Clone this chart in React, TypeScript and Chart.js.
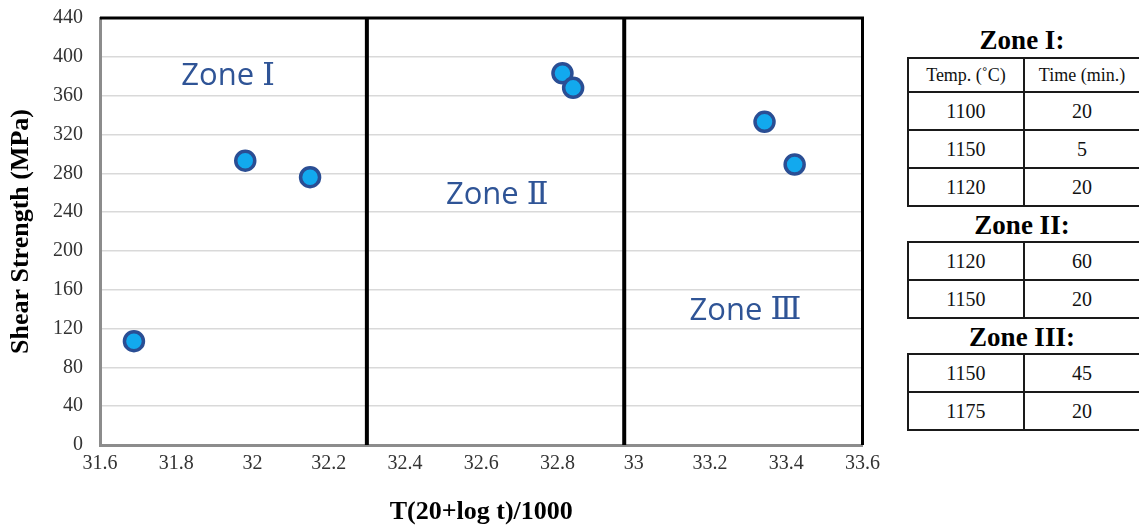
import React, { useEffect, useRef } from "react";
import { Chart, registerables } from "chart.js";

Chart.register(...registerables);

// ---- data ----
const xValues = [31.689, 31.981, 32.151, 32.813, 32.841, 33.343, 33.422];
const shearStrength = [107, 293, 276, 383, 368, 333, 289];
const zoneBoundaries = [32.3, 32.975];
const zoneWords = ["Zone", "Zone", "Zone"];
const zoneNumerals = ["Ⅰ", "Ⅱ", "Ⅲ"];
const zoneLabelX = [31.936, 32.642, 33.293];
const zoneLabelY = [380, 257, 138];
const xMin = 31.6;
const xMax = 33.6;
const xStep = 0.2;
const yMin = 0;
const yMax = 440;
const yStep = 40;
const xTitle = "T(20+log t)/1000";
const yTitle = "Shear Strength (MPa)";

const tableTitles = ["Zone I:", "Zone II:", "Zone III:"];
const tableHeader = ["Temp. (˚C)", "Time (min.)"];
const tempC = [[1100, 1150, 1120], [1120, 1150], [1150, 1175]];
const timeMin = [[20, 5, 20], [60, 20], [45, 20]];

const zonePlugin = {
  id: "zones",
  beforeDatasetsDraw(chart: any) {
    const { ctx, chartArea, scales } = chart;
    const xs = scales.x;
    const ys = scales.y;
    ctx.save();
    ctx.strokeStyle = "#000000";
    ctx.lineWidth = 4;
    zoneBoundaries.forEach((b) => {
      const px = xs.getPixelForValue(b);
      ctx.beginPath();
      ctx.moveTo(px, chartArea.top);
      ctx.lineTo(px, chartArea.bottom);
      ctx.stroke();
    });
    ctx.lineWidth = 3;
    ctx.beginPath();
    ctx.moveTo(chartArea.left, chartArea.top);
    ctx.lineTo(chartArea.right, chartArea.top);
    ctx.lineTo(chartArea.right, chartArea.bottom);
    ctx.stroke();
    // zone labels: word in sans, numeral in serif
    ctx.fillStyle = "#2F5496";
    ctx.textBaseline = "middle";
    ctx.textAlign = "left";
    const wordFont = '31px "Open Sans", "DejaVu Sans", sans-serif';
    const numFont = '32px "Liberation Serif", "DejaVu Serif", serif';
    zoneWords.forEach((w, i) => {
      ctx.font = wordFont;
      const ww = ctx.measureText(w + " ").width;
      ctx.font = numFont;
      const nw = ctx.measureText(zoneNumerals[i]).width;
      const cx = xs.getPixelForValue(zoneLabelX[i]);
      const cy = ys.getPixelForValue(zoneLabelY[i]);
      const start = cx - (ww + nw) / 2;
      ctx.font = wordFont;
      ctx.fillText(w + " ", start, cy);
      ctx.font = numFont;
      ctx.fillText(zoneNumerals[i], start + ww, cy);
    });
    ctx.restore();
  },
};

function ZoneTable({ idx }: { idx: number }) {
  const cell: React.CSSProperties = {
    border: "2px solid #1a1a1a",
    textAlign: "center",
    padding: 0,
    fontSize: 20,
    height: 36,
    width: 114,
    color: "#111",
  };
  const titleH = idx === 0 ? 33 : 31;
  return (
    <div>
      <div
        style={{
          height: titleH,
          paddingTop: 3,
          lineHeight: titleH + "px",
          textAlign: "center",
          fontWeight: "bold",
          fontSize: 27,
          width: 230,
          color: "#000",
        }}
      >
        {tableTitles[idx]}
      </div>
      <table style={{ borderCollapse: "collapse", width: 234, tableLayout: "fixed" }}>
        <tbody>
          {idx === 0 && (
            <tr>
              <td style={{ ...cell, height: 32, fontSize: 18 }}>{tableHeader[0]}</td>
              <td style={{ ...cell, height: 32, fontSize: 18 }}>{tableHeader[1]}</td>
            </tr>
          )}
          {tempC[idx].map((t, j) => (
            <tr key={j}>
              <td style={cell}>{t}</td>
              <td style={cell}>{timeMin[idx][j]}</td>
            </tr>
          ))}
        </tbody>
      </table>
    </div>
  );
}

export default function App() {
  const canvasRef = useRef<HTMLCanvasElement | null>(null);

  useEffect(() => {
    if (!canvasRef.current) return;
    const points = xValues.map((x, i) => ({ x, y: shearStrength[i] }));
    const chart = new Chart(canvasRef.current, {
      type: "scatter",
      data: {
        datasets: [
          {
            data: points,
            pointRadius: 9.5,
            pointHoverRadius: 9.5,
            pointBackgroundColor: "#12A9EE",
            pointBorderColor: "#2A4E94",
            pointBorderWidth: 3.5,
          },
        ],
      },
      options: {
        animation: false,
        responsive: true,
        maintainAspectRatio: false,
        plugins: { legend: { display: false }, tooltip: { enabled: false } },
        layout: { padding: { top: 5, right: 10, left: 0, bottom: 0 } },
        scales: {
          x: {
            type: "linear",
            min: xMin,
            max: xMax,
            afterFit: (s: any) => {
              s.height = 84;
            },
            ticks: {
              stepSize: xStep,
              padding: 7,
              color: "#333333",
              font: { family: '"Liberation Serif", serif', size: 20 },
              callback: (v: any) => String(Number(Number(v).toFixed(1))),
            },
            grid: { display: false, drawTicks: false },
            border: { display: true, color: "#8c8c8c", width: 3 },
            title: {
              display: true,
              text: xTitle,
              color: "#000",
              padding: { top: 0, bottom: 1 },
              font: { family: '"Liberation Serif", serif', size: 26, weight: "bold" },
            },
          },
          y: {
            min: yMin,
            max: yMax,
            afterFit: (s: any) => {
              s.width = 100;
            },
            ticks: {
              stepSize: yStep,
              padding: 17,
              color: "#333333",
              font: { family: '"Liberation Serif", serif', size: 20 },
            },
            grid: { display: true, drawTicks: false, color: "#d9d9d9", lineWidth: 1.5 },
            border: { display: true, color: "#8c8c8c", width: 3 },
            title: {
              display: true,
              text: yTitle,
              color: "#000",
              padding: { top: 6, bottom: 0 },
              font: { family: '"Liberation Serif", serif', size: 26, weight: "bold" },
            },
          },
        },
      },
      plugins: [zonePlugin],
    });
    return () => chart.destroy();
  }, []);

  return (
    <div
      style={{
        position: "fixed",
        left: 0,
        top: 0,
        width: 1139,
        height: 529,
        overflow: "hidden",
        background: "#fff",
        fontFamily: '"Liberation Serif", serif',
      }}
    >
      <div style={{ position: "absolute", left: 0, top: -11, width: 887, height: 540 }}>
        <canvas ref={canvasRef} />
      </div>
      <div style={{ position: "absolute", left: 907, top: 21 }}>
        <ZoneTable idx={0} />
        <ZoneTable idx={1} />
        <ZoneTable idx={2} />
      </div>
    </div>
  );
}
